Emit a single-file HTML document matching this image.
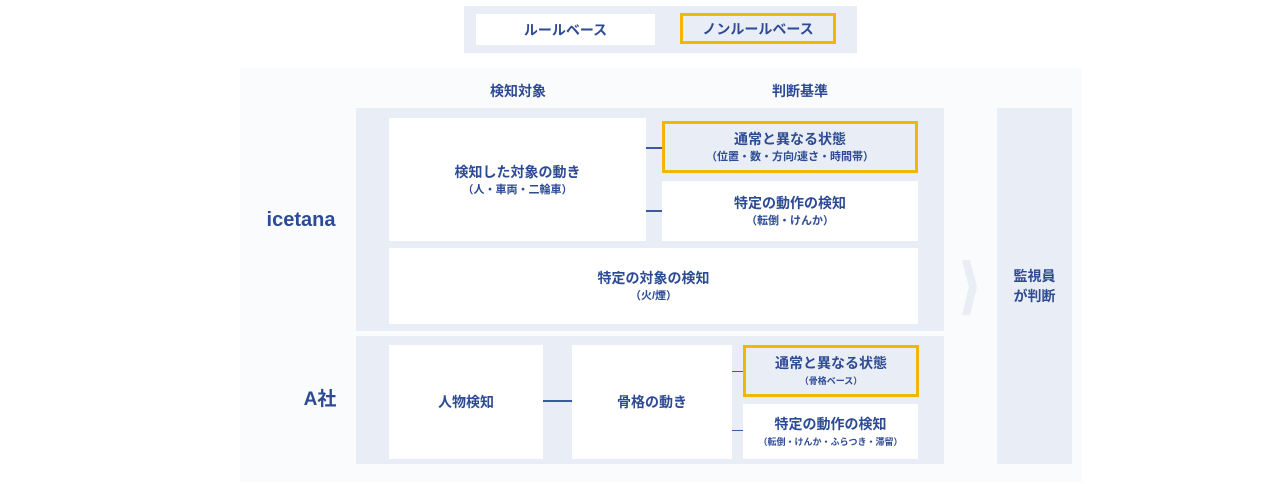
<!DOCTYPE html>
<html><head><meta charset="utf-8"><style>
body{margin:0;width:1280px;height:484px;background:#fff;position:relative;overflow:hidden;font-family:"Liberation Sans","Noto Sans CJK JP",sans-serif;color:#2d4a94;font-weight:bold}
div{position:absolute;box-sizing:border-box}
.c{display:flex;flex-direction:column;align-items:center;justify-content:center;text-align:center;font-size:14px;line-height:20px}
.s{font-size:11px;line-height:16px}
.w{background:#fff}
.g{background:#e9edf5}
.y{border:3px solid #f2b705;background:#e9edf5}
.l{height:2px;background:#3a5aa0}
</style></head><body>
<div class="g" style="left:464px;top:6px;width:393px;height:47px"></div>
<div class="w c" style="left:476px;top:14px;width:179px;height:31px">ルールベース</div>
<div class="y c" style="left:680px;top:13px;width:156px;height:31px">ノンルールベース</div>
<div style="left:240px;top:68px;width:842px;height:414px;background:#fafbfd"></div>
<div class="c" style="left:468px;top:80px;width:100px;height:22px">検知対象</div>
<div class="c" style="left:750px;top:80px;width:100px;height:22px">判断基準</div>
<div class="c" style="left:250px;top:207px;width:102px;height:26px;font-size:20px">icetana</div>
<div class="c" style="left:270px;top:388px;width:100px;height:24px;font-size:19px">A社</div>
<div class="g" style="left:356px;top:108px;width:588px;height:223px"></div>
<div class="w c" style="left:389px;top:118px;width:257px;height:123px">検知した対象の動き<span class="s">（人・車両・二輪車）</span></div>
<div class="y c" style="left:662px;top:121px;width:256px;height:52px">通常と異なる状態<span class="s">（位置・数・方向/速さ・時間帯）</span></div>
<div class="w c" style="left:662px;top:181px;width:256px;height:60px">特定の動作の検知<span class="s">（転倒・けんか）</span></div>
<div class="w c" style="left:389px;top:248px;width:529px;height:76px">特定の対象の検知<span class="s">（火/煙）</span></div>
<div class="l" style="left:646px;top:147px;width:16px"></div>
<div class="l" style="left:646px;top:210px;width:16px"></div>
<div class="g" style="left:356px;top:336px;width:588px;height:128px"></div>
<div class="w c" style="left:389px;top:345px;width:154px;height:114px">人物検知</div>
<div class="w c" style="left:572px;top:345px;width:160px;height:114px">骨格の動き</div>
<div class="y c" style="left:743px;top:345px;width:176px;height:52px">通常と異なる状態<span class="s" style="font-size:9px">（骨格ベース）</span></div>
<div class="w c" style="left:743px;top:404px;width:175px;height:55px">特定の動作の検知<span class="s" style="font-size:9px">（転倒・けんか・ふらつき・滞留）</span></div>
<div class="l" style="left:543px;top:400px;width:29px"></div>
<div class="l" style="left:732px;top:371px;width:11px;height:1px"></div>
<div class="l" style="left:732px;top:430px;width:11px;height:1px"></div>
<svg style="position:absolute;left:962px;top:260px" width="16" height="55"><polygon points="0,0 8,0 15,27 8,55 0,55 7,27" fill="#e9edf5"/></svg>
<div class="g c" style="left:997px;top:108px;width:75px;height:356px">監視員<br>が判断</div>
</body></html>
